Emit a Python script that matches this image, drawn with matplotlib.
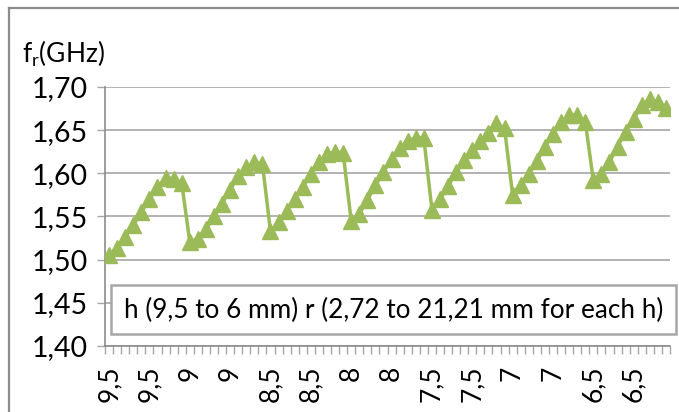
#!/usr/bin/env python3
"""
Resonant frequency vs substrate height / patch radius, sawtooth chart.
"""

import matplotlib
matplotlib.use('Agg')
import matplotlib.pyplot as plt
from matplotlib.ticker import FixedLocator, FuncFormatter
from matplotlib.patches import Rectangle
from matplotlib.lines import Line2D

plt.rcParams['font.family'] = ['Lato', 'DejaVu Sans']
plt.rcParams['mathtext.fontset'] = 'custom'
plt.rcParams['mathtext.rm'] = 'Lato'
plt.rcParams['mathtext.it'] = 'Lato'

# h values (mm), one group of 10 radii for each
h_values = ['9,5', '9', '8,5', '8', '7,5', '7', '6,5']

# resonant frequency (GHz), 10 points per h
fr_h95 = [1.505, 1.514, 1.526, 1.540, 1.555, 1.570, 1.584, 1.595, 1.594, 1.589]
fr_h90 = [1.521, 1.524, 1.535, 1.550, 1.565, 1.581, 1.597, 1.607, 1.613, 1.611]
fr_h85 = [1.533, 1.544, 1.556, 1.570, 1.584, 1.599, 1.613, 1.622, 1.625, 1.624]
fr_h80 = [1.545, 1.553, 1.569, 1.586, 1.601, 1.617, 1.629, 1.638, 1.641, 1.641]
fr_h75 = [1.558, 1.570, 1.585, 1.601, 1.615, 1.627, 1.637, 1.647, 1.658, 1.652]
fr_h70 = [1.575, 1.587, 1.599, 1.614, 1.630, 1.646, 1.659, 1.668, 1.668, 1.660]
fr_h65 = [1.592, 1.599, 1.613, 1.631, 1.648, 1.663, 1.679, 1.686, 1.683, 1.676]

fr = fr_h95 + fr_h90 + fr_h85 + fr_h80 + fr_h75 + fr_h70 + fr_h65
# every 5th category gets a label, so each h shows up twice
x_labels = [h for h in h_values for _ in range(2)]

y_ticks = [1.40, 1.45, 1.50, 1.55, 1.60, 1.65, 1.70]
note = 'h (9,5 to 6 mm) r (2,72 to 21,21 mm for each h)'

GREEN = '#9BBB59'
GRID = '#A6A6A6'
AXIS = '#8C8C8C'

fig = plt.figure(figsize=(6.79, 4.12), dpi=100)
ax = fig.add_axes([105 / 679, 66 / 412, 565 / 679, 259 / 412])

n = len(fr)
x = list(range(n))
ax.plot(x, fr, color=GREEN, lw=2.5, marker='^', markersize=11,
        markerfacecolor=GREEN, markeredgecolor=GREEN, zorder=3)

ax.set_xlim(-0.5, n - 0.5)
ax.set_ylim(1.40, 1.70)

ax.yaxis.set_major_locator(FixedLocator(y_ticks))
ax.yaxis.set_major_formatter(FuncFormatter(lambda v, p: f'{v:.2f}'.replace('.', ',')))
ax.grid(axis='y', color=GRID, lw=1.2, zorder=0)

ax.xaxis.set_major_locator(FixedLocator(list(range(0, n, 5))))
ax.set_xticklabels(x_labels, rotation=90)
ax.xaxis.set_minor_locator(FixedLocator([i - 0.5 for i in range(n + 1)]))

ax.tick_params(axis='x', which='major', length=0, pad=14, labelsize=19)
ax.tick_params(axis='x', which='minor', length=5.5, width=1, color=GRID, direction='out')
ax.tick_params(axis='y', length=5.5, width=1, color=GRID, pad=7, labelsize=20.5)

for side in ['top', 'right']:
    ax.spines[side].set_visible(False)
for side in ['left', 'bottom']:
    ax.spines[side].set_color(AXIS)
    ax.spines[side].set_linewidth(1.2)

# y axis title
fig.text(22 / 679, 1 - 63 / 412, r'$\mathregular{f_r}$(GHz)', fontsize=19,
         ha='left', va='baseline')

# note box over the lower part of the plot
box = Rectangle((111 / 679, 1 - 334 / 412), 565 / 679, 49 / 412,
                transform=fig.transFigure, facecolor='white',
                edgecolor=GRID, lw=1.8, zorder=5)
fig.patches.append(box)
fig.text(394 / 679, 1 - 310 / 412, note, fontsize=18.8, ha='center', va='center',
         zorder=6)

# chart area border (only top and left are inside the picture)
fig.lines.append(Line2D([9 / 679, 1], [1 - 8 / 412, 1 - 8 / 412],
                        transform=fig.transFigure, color=AXIS, lw=1.6))
fig.lines.append(Line2D([9 / 679, 9 / 679], [0, 1 - 8 / 412],
                        transform=fig.transFigure, color=AXIS, lw=1.6))

fig.savefig('out.png', dpi=100, facecolor='white')
